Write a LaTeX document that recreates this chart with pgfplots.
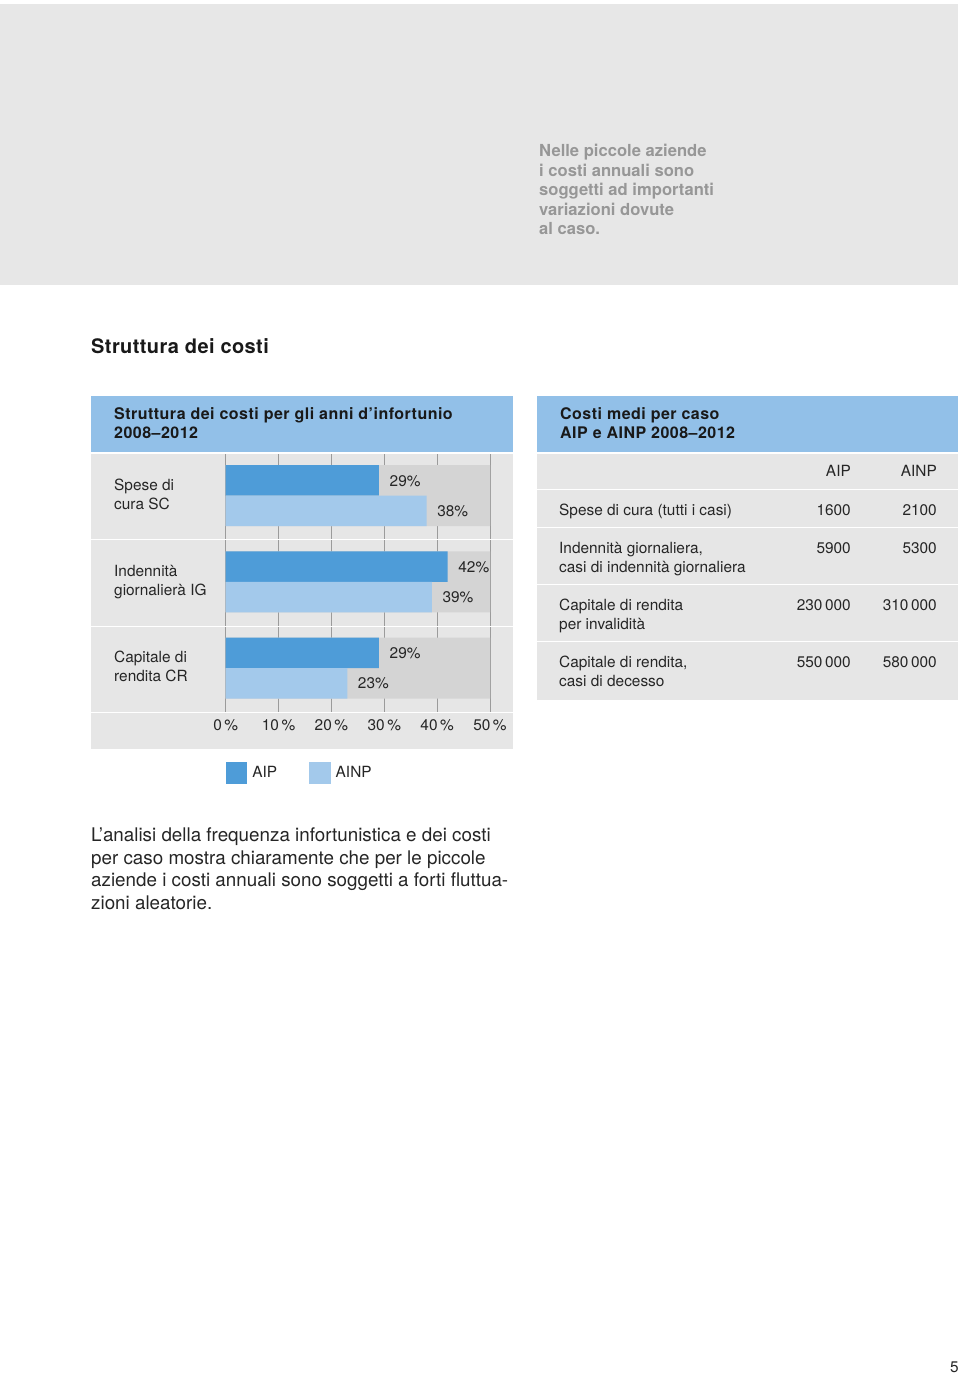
\documentclass[border=0pt]{standalone}
\usepackage{pgfplots}
\pgfplotsset{compat=1.18}
\usepackage{fontspec}
\setmainfont{TeX Gyre Heros}
\definecolor{aip}{HTML}{4E9CD8}
\definecolor{ainp}{HTML}{A3C9EB}
\definecolor{hdr}{HTML}{92C0E8}
\definecolor{panel}{HTML}{E6E6E6}
\definecolor{bgbar}{HTML}{D4D4D4}
\definecolor{topband}{HTML}{E7E7E7}
\definecolor{gridc}{HTML}{9B9B9B}
\definecolor{txt}{HTML}{262626}
\definecolor{note}{HTML}{979797}
\newcommand\fsmall{\fontsize{15.4}{18}\selectfont}
\newcommand\fhead{\fontsize{16}{19}\selectfont\bfseries\addfontfeatures{LetterSpace=3}}
\newcommand{\TL}[3]{\node[anchor=base west,inner sep=0pt] at (#1,#2) {#3};}
\newcommand{\TR}[3]{\node[anchor=base east,inner sep=0pt] at (#1,#2) {#3};}
\begin{document}
\begin{tikzpicture}[x=1pt,y=-1pt]
\fill[white] (0,0) rectangle (960,1374);
\fill[topband] (0,4) rectangle (958,285);
% panels
\fill[panel] (91,453) rectangle (513,749);
\fill[hdr] (91,396) rectangle (513,453);
\fill[panel] (537,453) rectangle (958,700);
\fill[hdr] (537,396) rectangle (958,453);
\begin{axis}[
  at={(225.7pt,-713pt)}, anchor=south west,
  scale only axis, width=264.3pt, height=260pt,
  xmin=0, xmax=50, ymin=-0.52, ymax=2.4925,
  axis line style={draw=none}, tick style={draw=none},
  xtick={0,10,20,30,40,50},
  xticklabels={0\,\%,10\,\%,20\,\%,30\,\%,40\,\%,50\,\%},
  xticklabel style={font=\fsmall, text=txt, inner sep=0pt, anchor=base, yshift=-17pt},
  ytick=\empty,
  xmajorgrids, grid style={draw=gridc, line width=1pt},
  clip=false,
  point meta=x,
  /pgf/number format/assume math mode=true,
  legend columns=-1,
  legend style={draw=none, fill=none, inner sep=0pt, at={(0,-0.2308)}, anchor=west,
    font=\fsmall, text=txt, nodes={inner sep=0pt},
    /tikz/every odd column/.append style={column sep=5pt},
    /tikz/every even column/.append style={column sep=32pt}},
  legend image code/.code={\fill[#1] (0pt,-11pt) rectangle (21.5pt,11pt);},
]
\addplot[xbar, bar width=61pt, bar shift=0pt, fill=bgbar, draw=none, forget plot]
  coordinates {(50,2) (50,1) (50,0)};
\addplot[xbar, bar width=30.5pt, bar shift=15.25pt, fill=aip, draw=none,
  nodes near coords={\pgfmathprintnumber{\pgfplotspointmeta}\%},
  nodes near coords style={anchor=west, xshift=10.5pt, yshift=14.5pt, inner sep=0pt, font=\fsmall, text=txt}]
  coordinates {(29,2) (42,1) (29,0)};
\addlegendentry{AIP}
\addplot[xbar, bar width=30.5pt, bar shift=-15.25pt, fill=ainp, draw=none,
  nodes near coords={\pgfmathprintnumber{\pgfplotspointmeta}\%},
  nodes near coords style={anchor=west, xshift=10.5pt, yshift=-15.5pt, inner sep=0pt, font=\fsmall, text=txt}]
  coordinates {(38,2) (39,1) (23,0)};
\addlegendentry{AINP}
\end{axis}
% white separators
\begin{scope}[white, line width=1.4pt]
\draw (91,453) -- (513,453);
\draw (91,539.3) -- (513,539.3);
\draw (91,626.7) -- (513,626.7);
\draw (91,712.7) -- (513,712.7);
\draw (537,453) -- (958,453);
\draw (537,489.3) -- (958,489.3);
\draw (537,527.3) -- (958,527.3);
\draw (537,584.3) -- (958,584.3);
\draw (537,641.7) -- (958,641.7);
\end{scope}
% side note
\begin{scope}[font=\fontsize{16.6}{19}\selectfont\bfseries, text=note]
\TL{539}{156.5}{Nelle piccole aziende}
\TL{539}{176}{i costi annuali sono}
\TL{539}{195.5}{soggetti ad importanti}
\TL{539}{215}{variazioni dovute}
\TL{539}{234.5}{al caso.}
\end{scope}
% title
\node[anchor=base west,inner sep=0pt,font=\fontsize{20}{24}\selectfont\bfseries\addfontfeatures{LetterSpace=2},text=black!90] at (91,353.5) {Struttura dei costi};
% headers
\begin{scope}[font=\fhead, text=black!90]
\TL{114}{419}{Struttura dei costi per gli anni d’infortunio}
\TL{114}{438}{2008–2012}
\TL{560}{419}{Costi medi per caso}
\TL{560}{438}{AIP e AINP 2008–2012}
\end{scope}
% left labels
\begin{scope}[font=\fsmall, text=txt]
\TL{114}{490}{Spese di}
\TL{114}{509}{cura SC}
\TL{114}{576}{Indennità}
\TL{114}{595}{giornalierà IG}
\TL{114}{662}{Capitale di}
\TL{114}{681}{rendita CR}
% right table
\TR{851}{476.5}{AIP}
\TR{937}{476.5}{AINP}
\TL{559}{515}{Spese di cura (tutti i casi)}
\TR{851}{515}{1600}
\TR{937}{515}{2100}
\TL{559}{553}{Indennità giornaliera,}
\TL{559}{572}{casi di indennità giornaliera}
\TR{851}{553}{5900}
\TR{937}{553}{5300}
\TL{559}{610}{Capitale di rendita}
\TL{559}{629}{per invalidità}
\TR{851}{610}{230\,000}
\TR{937}{610}{310\,000}
\TL{559}{667}{Capitale di rendita,}
\TL{559}{686}{casi di decesso}
\TR{851}{667}{550\,000}
\TR{937}{667}{580\,000}
\end{scope}
% paragraph
\begin{scope}[font=\fontsize{18.8}{22}\selectfont, text=txt]
\TL{91}{841}{L’analisi della frequenza infortunistica e dei costi}
\TL{91}{864}{per caso mostra chiaramente che per le piccole}
\TL{91}{886.5}{aziende i costi annuali sono soggetti a forti fluttua-}
\TL{91}{909}{zioni aleatorie.}
\end{scope}
\node[anchor=base east,inner sep=0pt,font=\fsmall,text=txt] at (959,1372) {5};
\end{tikzpicture}
\end{document}
